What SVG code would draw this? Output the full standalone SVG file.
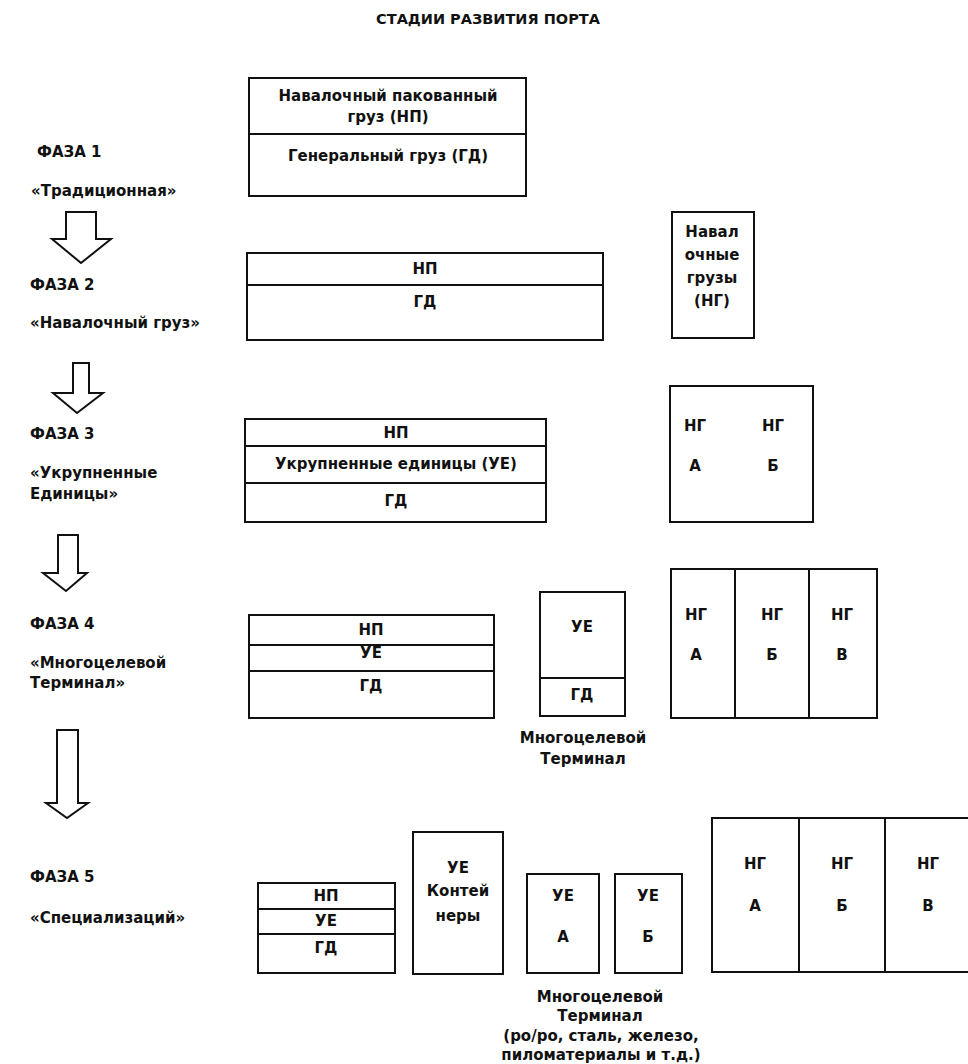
<svg xmlns="http://www.w3.org/2000/svg" width="968" height="1064" viewBox="0 0 968 1064">
<style>
.bx{fill:none;stroke:#111;stroke-width:2}
.ln{stroke:#111;stroke-width:2}
.ar{fill:#fff;stroke:#111;stroke-width:2;stroke-linejoin:miter}
text{font-family:"DejaVu Sans","Liberation Sans",sans-serif;font-weight:bold;font-size:15px;fill:#111;dominant-baseline:central}
.c{text-anchor:middle}
.l{text-anchor:start}
.ttl{font-size:14.5px}
</style>
<rect width="968" height="1064" fill="#fff"/>
<text class="c ttl" x="488" y="19">СТАДИИ РАЗВИТИЯ ПОРТА</text>

<g id="labels">
<text class="l" x="37" y="152">ФАЗА  1</text>
<text class="l" x="31" y="191">«Традиционная»</text>
<text class="l" x="30" y="285">ФАЗА  2</text>
<text class="l" x="30" y="323">«Навалочный груз»</text>
<text class="l" x="30" y="434">ФАЗА 3</text>
<text class="l" x="30" y="473">«Укрупненные</text>
<text class="l" x="30" y="494">Единицы»</text>
<text class="l" x="30" y="624">ФАЗА 4</text>
<text class="l" x="30" y="663">«Многоцелевой</text>
<text class="l" x="30" y="683">Терминал»</text>
<text class="l" x="30" y="877">ФАЗА 5</text>
<text class="l" x="30" y="918">«Специализаций»</text>
</g>

<g id="connectors">
<polygon class="ar" points="66,212 96,212 96,239 111,239 81,263 52,239 66,239"/>
<polygon class="ar" points="73,363 89,363 89,393 103,393 77,413 53,393 73,393"/>
<polygon class="ar" points="58,535 78,535 78,573 87,573 66,591 43,573 58,573"/>
<polygon class="ar" points="57,730 78,730 78,803 88,803 67,818 46,803 57,803"/>
</g>

<g id="phase1-box">
<rect class="bx" x="249" y="78" width="277" height="118"/>
<line class="ln" x1="249" y1="134" x2="526" y2="134"/>
<text class="c" x="388" y="96">Навалочный пакованный</text>
<text class="c" x="388" y="117">груз  (НП)</text>
<text class="c" x="388" y="156">Генеральный груз (ГД)</text>
</g>

<g id="phase2-box">
<rect class="bx" x="247" y="253" width="356" height="87"/>
<line class="ln" x1="247" y1="285" x2="603" y2="285"/>
<text class="c" x="425" y="269">НП</text>
<text class="c" x="425" y="302">ГД</text>
</g>

<g id="phase2-ng">
<rect class="bx" x="672" y="212" width="82" height="126"/>
<text class="c" x="712" y="232">Навал</text>
<text class="c" x="712" y="255">очные</text>
<text class="c" x="712" y="278">грузы</text>
<text class="c" x="712" y="301">(НГ)</text>
</g>

<g id="phase3-box">
<rect class="bx" x="245" y="419" width="301" height="103"/>
<line class="ln" x1="245" y1="446" x2="546" y2="446"/>
<line class="ln" x1="245" y1="483" x2="546" y2="483"/>
<text class="c" x="396" y="433">НП</text>
<text class="c" x="396" y="464">Укрупненные единицы (УЕ)</text>
<text class="c" x="396" y="501">ГД</text>
</g>

<g id="phase3-ng">
<rect class="bx" x="670" y="386" width="143" height="136"/>
<text class="c" x="695" y="426">НГ</text>
<text class="c" x="773" y="426">НГ</text>
<text class="c" x="695" y="466">А</text>
<text class="c" x="773" y="466">Б</text>
</g>

<g id="phase4-box">
<rect class="bx" x="249" y="615" width="245" height="103"/>
<line class="ln" x1="249" y1="645" x2="494" y2="645"/>
<line class="ln" x1="249" y1="671" x2="494" y2="671"/>
<text class="c" x="371" y="630">НП</text>
<text class="c" x="371" y="653">УЕ</text>
<text class="c" x="371" y="686">ГД</text>
</g>

<g id="phase4-terminal">
<rect class="bx" x="540" y="592" width="85" height="124"/>
<line class="ln" x1="540" y1="678" x2="625" y2="678"/>
<text class="c" x="582" y="627">УЕ</text>
<text class="c" x="582" y="695">ГД</text>
<text class="c" x="583" y="738">Многоцелевой</text>
<text class="c" x="583" y="759">Терминал</text>
</g>

<g id="phase4-ng">
<rect class="bx" x="671" y="569" width="206" height="149"/>
<line class="ln" x1="735" y1="569" x2="735" y2="718"/>
<line class="ln" x1="809" y1="569" x2="809" y2="718"/>
<text class="c" x="696" y="615">НГ</text>
<text class="c" x="772" y="615">НГ</text>
<text class="c" x="842" y="615">НГ</text>
<text class="c" x="696" y="655">А</text>
<text class="c" x="772" y="655">Б</text>
<text class="c" x="842" y="655">В</text>
</g>

<g id="phase5-box">
<rect class="bx" x="258" y="883" width="137" height="90"/>
<line class="ln" x1="258" y1="909" x2="395" y2="909"/>
<line class="ln" x1="258" y1="934" x2="395" y2="934"/>
<text class="c" x="326" y="896">НП</text>
<text class="c" x="326" y="921">УЕ</text>
<text class="c" x="326" y="948">ГД</text>
</g>

<g id="phase5-containers">
<rect class="bx" x="413" y="832" width="90" height="142"/>
<text class="c" x="458" y="868">УЕ</text>
<text class="c" x="458" y="891">Контей</text>
<text class="c" x="458" y="916">неры</text>
</g>

<g id="phase5-ue-a">
<rect class="bx" x="527" y="874" width="72" height="99"/>
<text class="c" x="563" y="896">УЕ</text>
<text class="c" x="563" y="937">А</text>
</g>

<g id="phase5-ue-b">
<rect class="bx" x="615" y="874" width="67" height="99"/>
<text class="c" x="648" y="896">УЕ</text>
<text class="c" x="648" y="937">Б</text>
</g>

<g id="phase5-caption">
<text class="c" x="600" y="997">Многоцелевой</text>
<text class="c" x="600" y="1016">Терминал</text>
<text class="c" x="601" y="1036">(ро/ро, сталь, железо,</text>
<text class="c" x="601" y="1055">пиломатериалы и т.д.)</text>
</g>

<g id="phase5-ng">
<rect class="bx" x="712" y="818" width="270" height="154"/>
<line class="ln" x1="799" y1="818" x2="799" y2="972"/>
<line class="ln" x1="885" y1="818" x2="885" y2="972"/>
<text class="c" x="755" y="864">НГ</text>
<text class="c" x="842" y="864">НГ</text>
<text class="c" x="928" y="864">НГ</text>
<text class="c" x="755" y="906">А</text>
<text class="c" x="842" y="906">Б</text>
<text class="c" x="928" y="906">В</text>
</g>
</svg>
